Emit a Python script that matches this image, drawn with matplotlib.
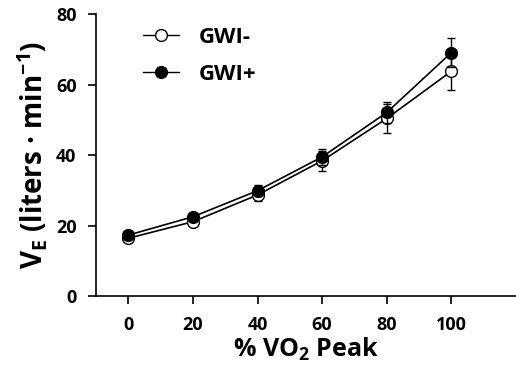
import numpy as np
import matplotlib.pyplot as plt
from matplotlib.lines import Line2D

plt.rcParams['font.family'] = ['Open Sans', 'DejaVu Sans']
plt.rcParams['mathtext.fontset'] = 'custom'
plt.rcParams['mathtext.rm'] = 'Open Sans:bold'
plt.rcParams['mathtext.default'] = 'rm'

# % VO2 peak
x = [0, 20, 40, 60, 80, 100]

# GWI- (open circles)
neg_mean = [16.4, 21.1, 28.7, 38.4, 50.4, 63.8]
neg_err = [1.0, 1.0, 1.7, 2.9, 4.0, 5.4]

# GWI+ (filled circles)
pos_mean = [17.3, 22.5, 29.9, 39.5, 52.1, 69.1]
pos_err = [1.0, 1.0, 1.6, 2.2, 3.0, 4.0]

fig = plt.figure(figsize=(5.16, 3.83), dpi=100)
ax = fig.add_axes([0.186, 0.227, 0.814, 0.736])

style = dict(color='black', lw=1.2, ms=8.5, capsize=3, elinewidth=1.0, capthick=1.0)
ax.errorbar(x, neg_mean, yerr=neg_err, marker='o', mfc='white', mec='black',
            zorder=3, **style)
ax.errorbar(x, pos_mean, yerr=pos_err, marker='o', mfc='black', mec='black',
            zorder=4, **style)

ax.set_xlim(-10, 120)
ax.set_ylim(0, 80)
ax.set_xticks(x)
ax.set_yticks([0, 20, 40, 60, 80])
for side in ['top', 'right']:
    ax.spines[side].set_visible(False)
for side in ['left', 'bottom']:
    ax.spines[side].set_linewidth(1.2)
ax.tick_params(axis='both', length=6, width=1.2, labelsize=13, pad=8)
for lab in ax.get_xticklabels() + ax.get_yticklabels():
    lab.set_fontweight('bold')

ax.set_xlabel('% VO$_2$ Peak', fontsize=18, fontweight='bold', labelpad=2)
ax.set_ylabel('V$_E$ (liters · min$^{-1}$)', fontsize=20, fontweight='bold', labelpad=4)

handles = [
    Line2D([], [], color='black', lw=1.0, marker='o', ms=8.5, mfc='white', mec='black'),
    Line2D([], [], color='black', lw=1.0, marker='o', ms=8.5, mfc='black', mec='black'),
]
ax.legend(handles, ['GWI-', 'GWI+'], loc='upper left', bbox_to_anchor=(0.065, 1.025),
          frameon=False, prop={'size': 16, 'weight': 'bold'}, handlelength=1.6,
          handletextpad=0.9, labelspacing=0.7)

plt.savefig('out.png', dpi=100)
plt.close()
